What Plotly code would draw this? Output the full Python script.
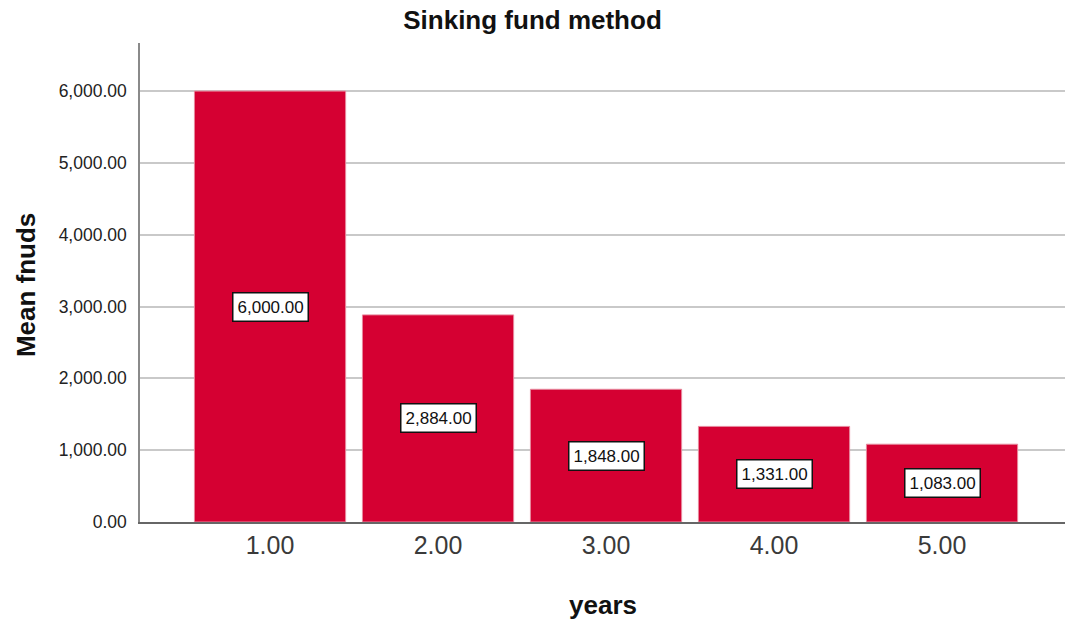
import plotly.graph_objects as go

# Mean fund value by year (sinking fund method)
years = [1, 2, 3, 4, 5]
year_labels = ["1.00", "2.00", "3.00", "4.00", "5.00"]
mean_funds = [6000.00, 2884.00, 1848.00, 1331.00, 1083.00]
y_ticks = [0, 1000, 2000, 3000, 4000, 5000, 6000]

FONT = "Liberation Sans, Arial, sans-serif"
BAR_COLOR = "#D50032"

fig = go.Figure()
fig.add_trace(go.Bar(
    x=years,
    y=mean_funds,
    width=0.9,
    marker=dict(color=BAR_COLOR, line=dict(color="#e7899d", width=1)),
    hoverinfo="x+y",
))

# Boxed value labels centred inside each bar
for xv, yv in zip(years, mean_funds):
    fig.add_annotation(
        x=xv, y=yv / 2, xref="x", yref="y",
        text=f"{yv:,.2f}", showarrow=False,
        font=dict(family=FONT, size=17, color="#111"),
        bgcolor="white", bordercolor="#111", borderwidth=1.5, borderpad=4,
    )

# Axis titles
fig.add_annotation(
    x=0.5, y=-0.173, xref="paper", yref="paper",
    text="years", showarrow=False, yanchor="middle",
    font=dict(family=FONT, size=26, color="#111", weight="bold"),
)
fig.add_annotation(
    x=-0.123, y=0.495, xref="paper", yref="paper",
    text="Mean fnuds", showarrow=False, textangle=-90,
    xanchor="center", yanchor="middle",
    font=dict(family=FONT, size=26, color="#111", weight="bold"),
)

fig.update_layout(
    width=1065, height=620,
    margin=dict(l=140, r=0, t=43, b=98),
    paper_bgcolor="white", plot_bgcolor="white",
    showlegend=False,
    title=dict(
        text="Sinking fund method", x=0.5, xanchor="center",
        y=1 - 20 / 620, yanchor="middle", yref="container",
        font=dict(family=FONT, size=26, color="#111", weight="bold"),
    ),
    xaxis=dict(
        range=[0.226, 5.732],
        tickvals=years, ticktext=year_labels,
        tickfont=dict(family=FONT, size=25, color="#3a3a3a"),
        showgrid=False, zeroline=False,
        showline=True, linecolor="#666", linewidth=1.5,
        ticks="", ticklen=0,
    ),
    yaxis=dict(
        range=[0, 6670],
        tickvals=y_ticks, tickformat=",.2f",
        tickfont=dict(family=FONT, size=17.5, color="#222"),
        showgrid=True, gridcolor="#c9c9c9", gridwidth=1.5,
        zeroline=False,
        showline=True, linecolor="#8a8a8a", linewidth=1.5,
        ticks="outside", ticklen=8, tickcolor="rgba(0,0,0,0)",
    ),
)

fig.write_html("out.html")
